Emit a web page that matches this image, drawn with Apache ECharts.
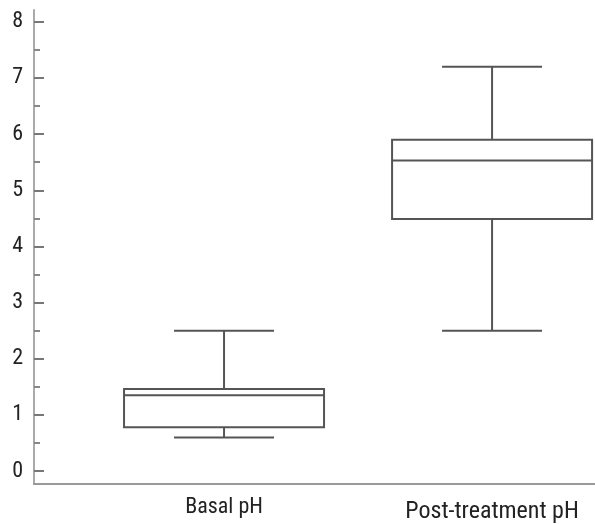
<!DOCTYPE html>
<html>
<head>
<meta charset="utf-8">
<script src="https://cdn.jsdelivr.net/npm/echarts@6/dist/echarts.min.js"></script>
<style>
html,body{margin:0;padding:0;background:#fff;}
#chart{width:595px;height:524px;}
</style>
</head>
<body>
<div id="chart"></div>
<script>
// ---- data ----
const categories = ['Basal pH', 'Post-treatment pH'];
const categoryPos = [1, 2];
const mins    = [0.60, 2.50];
const q1s     = [0.78, 4.49];
const medians = [1.35, 5.53];
const q3s     = [1.46, 5.90];
const maxs    = [2.50, 7.20];
const yTickLabels = [0, 1, 2, 3, 4, 5, 6, 7, 8];
const yMinorTicks = [0.5, 1.5, 2.5, 3.5, 4.5, 5.5, 6.5, 7.5];

// ---- styles ----
const FONT = '"Liberation Sans Narrow", "Roboto Condensed", "Liberation Sans", Arial, sans-serif';
const BOX_W = 200, CAP_W = 100;
const LINE_COLOR = '#555';

const boxData = categoryPos.map((x, i) => [x, mins[i], q1s[i], medians[i], q3s[i], maxs[i]]);

const chart = echarts.init(document.getElementById('chart'), null, {renderer: 'canvas'});

function renderBox(params, api) {
  const x = api.value(0);
  const pMin = api.coord([x, api.value(1)]);
  const pQ1 = api.coord([x, api.value(2)]);
  const pMed = api.coord([x, api.value(3)]);
  const pQ3 = api.coord([x, api.value(4)]);
  const pMax = api.coord([x, api.value(5)]);
  const cx = pMed[0];
  const style = {stroke: LINE_COLOR, lineWidth: 2, fill: null};
  return {
    type: 'group',
    children: [
      {type: 'rect', shape: {x: cx - BOX_W / 2, y: pQ3[1], width: BOX_W, height: pQ1[1] - pQ3[1]}, style: Object.assign({}, style, {fill: 'rgba(0,0,0,0)'})},
      {type: 'line', shape: {x1: cx - BOX_W / 2, y1: pMed[1], x2: cx + BOX_W / 2, y2: pMed[1]}, style},
      {type: 'line', shape: {x1: cx, y1: pQ3[1], x2: cx, y2: pMax[1]}, style},
      {type: 'line', shape: {x1: cx, y1: pQ1[1], x2: cx, y2: pMin[1]}, style},
      {type: 'line', shape: {x1: cx - CAP_W / 2, y1: pMax[1], x2: cx + CAP_W / 2, y2: pMax[1]}, style},
      {type: 'line', shape: {x1: cx - CAP_W / 2, y1: pMin[1], x2: cx + CAP_W / 2, y2: pMin[1]}, style}
    ]
  };
}

const option = {
  animation: false,
  backgroundColor: '#fff',
  grid: {left: 34, right: 0, top: 10, bottom: 40, containLabel: false},
  xAxis: {
    type: 'value',
    min: 0.291, max: 2.384,
    splitLine: {show: false},
    axisLine: {show: true, onZero: false, lineStyle: {color: '#999', width: 2}},
    axisTick: {show: false},
    axisLabel: {
      customValues: categoryPos,
      margin: 12,
      formatter: function (v) {
        const i = categoryPos.indexOf(v);
        if (i < 0) return '';
        return i === 0 ? '{a|' + categories[i] + '}' : '{b|' + categories[i] + '}';
      },
      rich: {
        a: {fontFamily: FONT, fontSize: 22, color: '#222'},
        b: {fontFamily: FONT, fontSize: 24, color: '#222', padding: [4, 0, 0, 0]}
      }
    }
  },
  yAxis: [{
    type: 'value',
    min: -0.23, max: 8.21,
    splitLine: {show: false},
    axisLine: {show: true, onZero: false, lineStyle: {color: '#aaa', width: 2}},
    axisTick: {show: true, inside: true, length: 10, customValues: yTickLabels, lineStyle: {color: '#777', width: 2}},
    axisLabel: {customValues: yTickLabels, margin: 11, fontFamily: FONT, fontSize: 22, color: '#222'}
  }, {
    type: 'value',
    position: 'left',
    min: -0.23, max: 8.21,
    splitLine: {show: false},
    axisLine: {show: false, onZero: false},
    axisTick: {show: true, inside: true, length: 6, customValues: yMinorTicks, lineStyle: {color: '#888', width: 2}},
    axisLabel: {show: false}
  }],
  series: [{
    type: 'custom',
    renderItem: renderBox,
    data: boxData,
    encode: {x: 0, y: [1, 2, 3, 4, 5]}
  }]
};
chart.setOption(option);
</script>
</body>
</html>
